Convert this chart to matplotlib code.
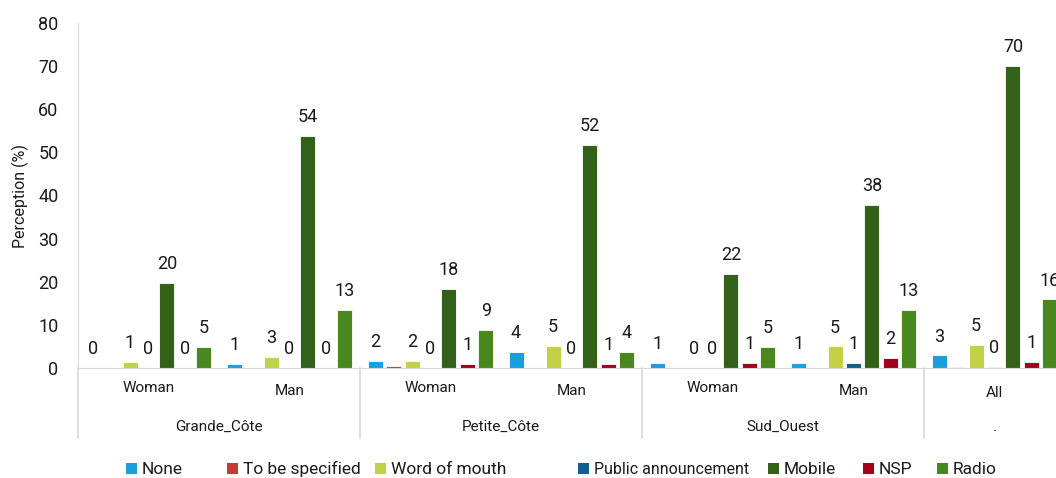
import matplotlib.pyplot as plt
import matplotlib.transforms as mtransforms
from matplotlib.patches import Rectangle
import numpy as np

plt.rcParams['font.family'] = ['Roboto', 'DejaVu Sans']

# Data
regions = ['Grande_Côte', 'Petite_Côte', 'Sud_Ouest', '.']
subgroups = ['Woman', 'Man', 'Woman', 'Man', 'Woman', 'Man', 'All']
series = ['None', 'To be specified', 'Word of mouth', 'Public announcement', 'Mobile', 'NSP', 'Radio']
colors = ['#1a9fdb', '#c23a33', '#c3d147', '#135f8a', '#33611a', '#a3001e', '#4a871f']

none_vals = [0, 1.0, 1.7, 3.8, 1.2, 1.2, 2.9]
tbs_vals = [0, 0, 0.5, 0, 0, 0, 0.3]
wom_vals = [1.4, 2.6, 1.7, 5.2, 0, 5.0, 5.3]
pub_vals = [0, 0, 0, 0, 0, 1.2, 0.3]
mobile_vals = [19.8, 53.8, 18.4, 51.8, 21.9, 37.9, 70.0]
nsp_vals = [0, 0, 1.0, 1.0, 1.2, 2.4, 1.4]
radio_vals = [4.9, 13.4, 8.8, 3.7, 4.9, 13.4, 15.9]

values = [none_vals, tbs_vals, wom_vals, pub_vals, mobile_vals, nsp_vals, radio_vals]
show_label = [True, False, True, True, True, True, True]

W, H = 1056, 478
fig = plt.figure(figsize=(W / 100, H / 100), dpi=100)
ax = fig.add_axes([78 / W, 110 / H, 987 / W, 345 / H])

x = np.arange(len(subgroups))
step = 0.131
width = 0.106
for i, (name, vals, col) in enumerate(zip(series, values, colors)):
    pos = x + (i - 3) * step
    ax.bar(pos, vals, width, color=col, edgecolor='white', linewidth=0.6, label=name)
    if show_label[i]:
        for xp, v in zip(pos, vals):
            ax.annotate(f'{v:.0f}', (xp, v), xytext=(0, 7), textcoords='offset points',
                        ha='center', va='bottom', fontsize=13, color='#1a1a1a')

ax.set_xlim(-0.5, len(subgroups) - 0.5)
ax.set_ylim(0, 80)
ax.set_yticks(range(0, 81, 10))
ax.tick_params(axis='y', length=0, pad=14, labelsize=13, colors='#1a1a1a')
ax.set_xticks([])
for s in ['top', 'right']:
    ax.spines[s].set_visible(False)
ax.spines['left'].set_color('#d9d9d9')
ax.spines['bottom'].set_color('#d9d9d9')
ax.spines['left'].set_bounds(0, 80)
ax.set_ylabel('Perception (%)', fontsize=11.5, labelpad=7, color='#1a1a1a')

# multi-level category axis
trans = mtransforms.blended_transform_factory(ax.transData, ax.transAxes)
depth = -70 / 345
for b in [-0.5, 1.5, 3.5, 5.5]:
    ax.plot([b, b], [0, depth], transform=trans, color='#d9d9d9', lw=1.2, clip_on=False)
sub_y = [-20, -23, -20, -23, -20, -23, -25]
for xi, lab, dy in zip(x, subgroups, sub_y):
    ax.text(xi, dy / 345, lab, transform=trans, ha='center', va='center', fontsize=11, color='#1a1a1a')
for k, reg in enumerate(regions):
    cx = 2 * k + 0.5 if k < 3 else 6
    ax.text(cx, -59 / 345, reg, transform=trans, ha='center', va='center', fontsize=11, color='#1a1a1a')

# legend, laid out like the original (fixed slots)
leg_x = [126, 227, 375, 578, 768, 863, 937]
leg_size = [12.5, 12.5, 12.5, 11.5, 12.5, 12.5, 12.5]
leg_y = 469
for lx, name, col, fs in zip(leg_x, series, colors, leg_size):
    fig.patches.append(Rectangle((lx / W, 1 - (leg_y + 5) / H), 11 / W, 11 / H,
                                 transform=fig.transFigure, facecolor=col, edgecolor='none'))
    fig.text((lx + 16) / W, 1 - leg_y / H, name, ha='left', va='center', fontsize=fs,
             color='#1a1a1a')

fig.savefig('out.png', dpi=100)
